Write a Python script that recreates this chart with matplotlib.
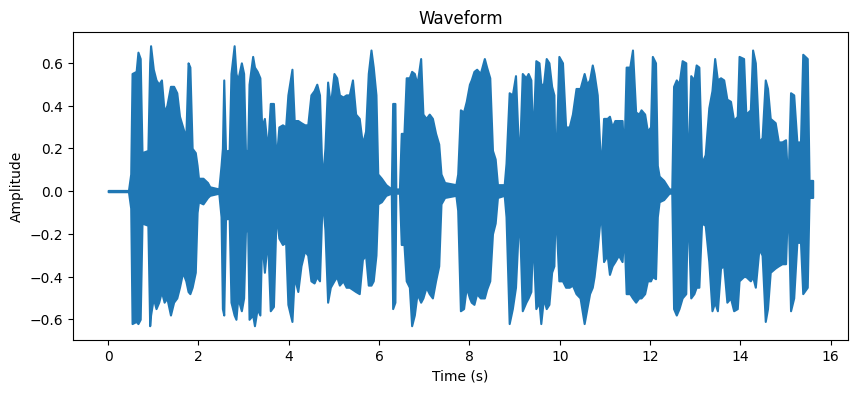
import matplotlib
matplotlib.use("Agg")
import matplotlib.pyplot as plt
import numpy as np

# Envelope of the waveform: time (s), upper and lower peaks
t = [0.00, 0.45, 0.50, 0.53, 0.62, 0.66, 0.71, 0.75, 0.88, 0.92, 0.94, 1.00, 1.06, 1.12,
     1.18, 1.24, 1.30, 1.38, 1.45, 1.52, 1.58, 1.65, 1.72, 1.77, 1.81, 1.86, 1.93, 1.97,
     2.00, 2.10, 2.20, 2.25, 2.45, 2.50, 2.53, 2.56, 2.60, 2.64, 2.68, 2.72, 2.79, 2.83,
     2.87, 2.95, 3.00, 3.04, 3.09, 3.12, 3.20, 3.24, 3.30, 3.36, 3.40, 3.46, 3.53, 3.59,
     3.66, 3.72, 3.78, 3.86, 3.93, 3.98, 4.07, 4.12, 4.20, 4.27, 4.35, 4.42, 4.49, 4.56,
     4.62, 4.68, 4.74, 4.80, 4.86, 4.92, 5.00, 5.06, 5.12, 5.20, 5.27, 5.34, 5.41, 5.48,
     5.56, 5.63, 5.70, 5.76, 5.82, 5.87, 5.93, 5.97, 6.05, 6.15, 6.27, 6.30, 6.35, 6.37,
     6.45, 6.49, 6.55, 6.60, 6.67, 6.72, 6.78, 6.84, 6.92, 6.97, 7.04, 7.11, 7.18, 7.25,
     7.32, 7.37, 7.45, 7.70, 7.74, 7.80, 7.87, 7.93, 8.00, 8.04, 8.10, 8.16, 8.24, 8.33,
     8.38, 8.45, 8.51, 8.57, 8.62, 8.77, 8.81, 8.88, 8.95, 9.02, 9.10, 9.17, 9.25, 9.30,
     9.36, 9.40, 9.47, 9.54, 9.58, 9.64, 9.70, 9.76, 9.82, 9.87, 9.90, 9.98, 10.06, 10.13,
     10.21, 10.28, 10.36, 10.45, 10.54, 10.60, 10.66, 10.72, 10.76, 10.83, 10.91, 10.97,
     11.05, 11.10, 11.16, 11.22, 11.30, 11.38, 11.42, 11.47, 11.55, 11.61, 11.68, 11.75,
     11.80, 11.88, 11.94, 12.01, 12.05, 12.12, 12.16, 12.20, 12.30, 12.42, 12.48, 12.52,
     12.58, 12.64, 12.71, 12.79, 12.83, 12.90, 12.97, 13.02, 13.08, 13.14, 13.22, 13.30,
     13.37, 13.43, 13.49, 13.56, 13.63, 13.70, 13.78, 13.85, 13.93, 13.97, 14.07, 14.12,
     14.22, 14.27, 14.33, 14.41, 14.48, 14.55, 14.60, 14.66, 14.77, 14.84, 14.92, 15.00,
     15.05, 15.11, 15.18, 15.25, 15.33, 15.38, 15.48, 15.52, 15.60]

upper = [0.003, 0.003, 0.08, 0.55, 0.56, 0.65, 0.62, 0.18, 0.19, 0.60, 0.68, 0.57, 0.52, 0.50,
         0.52, 0.37, 0.40, 0.49, 0.49, 0.46, 0.35, 0.30, 0.25, 0.60, 0.58, 0.20, 0.18, 0.12,
         0.06, 0.06, 0.04, 0.02, 0.01, 0.12, 0.20, 0.52, 0.18, 0.19, 0.19, 0.55, 0.68, 0.55,
         0.52, 0.60, 0.55, 0.19, 0.19, 0.50, 0.63, 0.58, 0.56, 0.53, 0.30, 0.34, 0.19, 0.41,
         0.41, 0.14, 0.30, 0.31, 0.30, 0.45, 0.57, 0.33, 0.33, 0.32, 0.31, 0.31, 0.45, 0.47,
         0.50, 0.45, 0.04, 0.20, 0.51, 0.40, 0.55, 0.53, 0.45, 0.44, 0.45, 0.45, 0.52, 0.36,
         0.34, 0.22, 0.28, 0.55, 0.66, 0.58, 0.45, 0.08, 0.06, 0.03, 0.01, 0.41, 0.41, 0.01,
         0.01, 0.27, 0.27, 0.53, 0.53, 0.56, 0.55, 0.50, 0.62, 0.36, 0.34, 0.36, 0.34, 0.27,
         0.22, 0.08, 0.04, 0.03, 0.08, 0.38, 0.37, 0.42, 0.50, 0.52, 0.56, 0.57, 0.55, 0.62,
         0.58, 0.53, 0.19, 0.15, 0.03, 0.03, 0.13, 0.46, 0.45, 0.54, 0.12, 0.55, 0.53, 0.55,
         0.52, 0.23, 0.61, 0.60, 0.50, 0.50, 0.62, 0.60, 0.49, 0.45, 0.06, 0.63, 0.60, 0.30,
         0.30, 0.36, 0.48, 0.48, 0.55, 0.50, 0.52, 0.59, 0.55, 0.45, 0.09, 0.34,
         0.34, 0.35, 0.30, 0.33, 0.33, 0.33, 0.16, 0.58, 0.58, 0.66, 0.37, 0.36,
         0.38, 0.36, 0.28, 0.30, 0.63, 0.60, 0.12, 0.07, 0.05, 0.01, 0.01, 0.49,
         0.52, 0.50, 0.61, 0.60, 0.06, 0.54, 0.52, 0.59, 0.58, 0.13, 0.17, 0.39,
         0.47, 0.62, 0.52, 0.53, 0.52, 0.43, 0.42, 0.33, 0.35, 0.63, 0.62, 0.36,
         0.38, 0.66, 0.60, 0.23, 0.25, 0.52, 0.48, 0.34, 0.32, 0.23, 0.23, 0.24,
         0.02, 0.46, 0.45, 0.23, 0.23, 0.64, 0.62, 0.05, 0.05]

lower = [-0.003, -0.003, -0.08, -0.62, -0.61, -0.62, -0.60, -0.15, -0.16, -0.63, -0.58, -0.50, -0.55, -0.52,
         -0.47, -0.52, -0.50, -0.58, -0.52, -0.50, -0.45, -0.38, -0.42, -0.47, -0.48, -0.45, -0.38, -0.10,
         -0.05, -0.06, -0.03, -0.02, -0.01, -0.12, -0.55, -0.58, -0.12, -0.13, -0.12, -0.52, -0.58, -0.60,
         -0.50, -0.56, -0.50, -0.19, -0.18, -0.60, -0.58, -0.63, -0.55, -0.58, -0.22, -0.38, -0.22, -0.56,
         -0.54, -0.10, -0.22, -0.25, -0.24, -0.53, -0.61, -0.40, -0.47, -0.35, -0.28, -0.30, -0.42, -0.43,
         -0.40, -0.42, -0.03, -0.18, -0.52, -0.45, -0.42, -0.40, -0.44, -0.42, -0.45, -0.45, -0.46, -0.47,
         -0.48, -0.32, -0.30, -0.44, -0.44, -0.42, -0.30, -0.06, -0.05, -0.02, -0.01, -0.55, -0.52, -0.01,
         -0.01, -0.25, -0.25, -0.42, -0.45, -0.63, -0.58, -0.48, -0.52, -0.50, -0.45, -0.48, -0.50, -0.42,
         -0.35, -0.06, -0.03, -0.02, -0.09, -0.56, -0.55, -0.45, -0.50, -0.52, -0.53, -0.48, -0.50, -0.50,
         -0.46, -0.42, -0.20, -0.15, -0.03, -0.02, -0.12, -0.62, -0.55, -0.45, -0.09, -0.56, -0.52, -0.50,
         -0.47, -0.20, -0.55, -0.52, -0.62, -0.50, -0.55, -0.53, -0.38, -0.35, -0.06, -0.42, -0.42, -0.45,
         -0.45, -0.44, -0.48, -0.50, -0.62, -0.55, -0.48, -0.45, -0.40, -0.27, -0.09, -0.33,
         -0.30, -0.39, -0.35, -0.33, -0.30, -0.33, -0.18, -0.48, -0.48, -0.50, -0.52, -0.50,
         -0.50, -0.48, -0.42, -0.42, -0.40, -0.41, -0.12, -0.05, -0.04, -0.01, -0.01, -0.55,
         -0.58, -0.55, -0.50, -0.48, -0.05, -0.50, -0.48, -0.45, -0.45, -0.15, -0.16, -0.33,
         -0.56, -0.52, -0.56, -0.36, -0.35, -0.52, -0.50, -0.56, -0.55, -0.42, -0.40, -0.40,
         -0.42, -0.40, -0.45, -0.27, -0.30, -0.61, -0.55, -0.38, -0.36, -0.35, -0.34, -0.34,
         -0.02, -0.56, -0.50, -0.24, -0.24, -0.48, -0.45, -0.03, -0.03]

time = np.array(t)
up = np.array(upper)
lo = np.array(lower)

# Plotting
plt.figure(figsize=(10, 4))
plt.fill_between(time, lo, up, color="#1f77b4", linewidth=1.5)

plt.title("Waveform")
plt.xlabel("Time (s)")
plt.ylabel("Amplitude")

plt.savefig("out.png", dpi=100, bbox_inches="tight")
